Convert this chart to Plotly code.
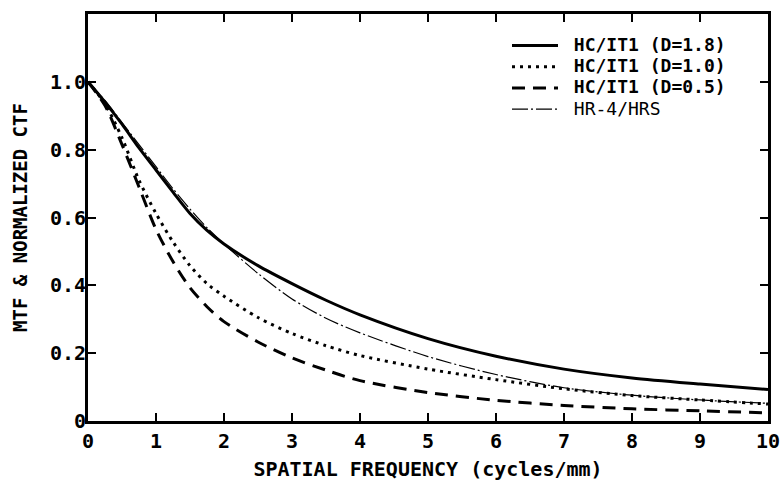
import plotly.graph_objects as go

# Spatial frequency (cycles/mm)
freq = [0, 0.25, 0.5, 0.75, 1, 1.25, 1.5, 1.75, 2, 2.5, 3, 3.5, 4, 5, 6, 7, 8, 9, 10]

# MTF / normalized CTF values
hc_d18 = [1.0, 0.94, 0.875, 0.805, 0.74, 0.675, 0.612, 0.562, 0.522, 0.458, 0.405, 0.356,
          0.313, 0.243, 0.191, 0.153, 0.127, 0.109, 0.093]
hc_d10 = [1.0, 0.935, 0.835, 0.71, 0.612, 0.528, 0.458, 0.405, 0.368, 0.305, 0.258, 0.222,
          0.193, 0.153, 0.122, 0.095, 0.075, 0.062, 0.05]
hc_d05 = [1.0, 0.93, 0.815, 0.69, 0.565, 0.47, 0.393, 0.337, 0.293, 0.233, 0.186, 0.15,
          0.119, 0.084, 0.061, 0.046, 0.036, 0.03, 0.024]
hr4_hrs = [1.0, 0.945, 0.88, 0.815, 0.75, 0.685, 0.625, 0.57, 0.522, 0.435, 0.36, 0.303,
           0.26, 0.19, 0.137, 0.098, 0.076, 0.062, 0.052]

names = ["HC/IT1 (D=1.8)", "HC/IT1 (D=1.0)", "HC/IT1 (D=0.5)", "HR-4/HRS"]

x_ticks = list(range(0, 11))
y_tickvals = [0, 0.2, 0.4, 0.6, 0.8, 1.0]
y_ticktext = ["0", "0.2", "0.4", "0.6", "0.8", "1.0"]

FONT = "DejaVu Sans Mono"

fig = go.Figure()
series = [
    (hc_d18, names[0], dict(color="black", width=3, dash="solid"), True),
    (hc_d10, names[1], dict(color="black", width=3, dash="3px,5px"), True),
    (hc_d05, names[2], dict(color="black", width=3, dash="13px,8px"), True),
    (hr4_hrs, names[3], dict(color="black", width=1.2, dash="16px,3px,2px,3px"), False),
]
for ys, nm, ln, bold in series:
    label = f"<b>{nm}</b>" if bold else nm
    fig.add_trace(go.Scatter(
        x=freq, y=ys, mode="lines", line=dict(shape="spline", smoothing=0.8, **ln),
        name=f"<span style='font-size:18px'>\u00a0{label}</span>",
    ))

axis_common = dict(
    showline=True, linecolor="black", linewidth=3, mirror="ticks",
    ticks="inside", ticklen=8, tickwidth=2, tickcolor="black",
    showgrid=False, zeroline=False, automargin=False,
    tickfont=dict(family=FONT, size=20, color="black", weight="bold"),
)

fig.update_layout(
    width=782, height=485,
    margin=dict(l=88, r=14, t=14, b=64),
    paper_bgcolor="white", plot_bgcolor="white",
    xaxis=dict(range=[0, 10], tickvals=x_ticks,
               title=dict(text="SPATIAL FREQUENCY (cycles/mm)", standoff=10,
                          font=dict(family=FONT, size=20, color="black", weight="bold")),
               **axis_common),
    yaxis=dict(range=[0, 1.2], tickvals=y_tickvals, ticktext=y_ticktext,
               ticklabelstandoff=-5,
               title=dict(text="MTF & NORMALIZED CTF", standoff=18,
                          font=dict(family=FONT, size=19, color="black", weight="bold")),
               **axis_common),
    legend=dict(x=(507 - 88) / 680, y=(421 - 30) / 407, xanchor="left", yanchor="top",
                font=dict(family=FONT, size=14, color="black"),
                bgcolor="rgba(0,0,0,0)", itemwidth=46, tracegroupgap=0),
    showlegend=True,
)

fig.write_html("out.html", config={"displayModeBar": False},
               post_script="document.body.style.margin='0';")
